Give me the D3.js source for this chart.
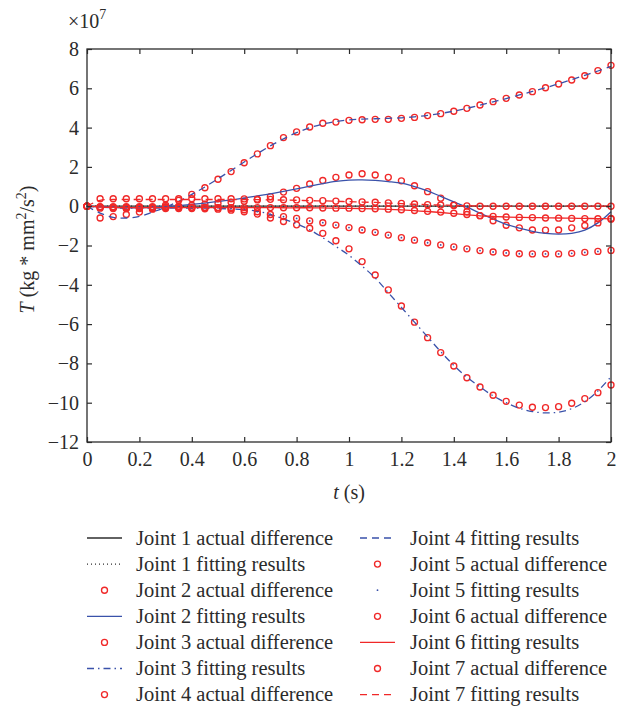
<!DOCTYPE html>
<html>
<head>
<meta charset="utf-8">
<script src="https://cdn.jsdelivr.net/npm/d3@7"></script>
<style>
  body { margin: 0; background: #fff; }
  svg text { font-family: "Liberation Serif", "Times New Roman", serif; fill: #2b2b2b; }
</style>
</head>
<body>
<svg id="chart" width="632" height="710"></svg>
<script>
// Sample times (s)
const time = [0, 0.05, 0.1, 0.15, 0.2, 0.25, 0.3, 0.35, 0.4, 0.45, 0.5, 0.55, 0.6, 0.65, 0.7, 0.75, 0.8, 0.85, 0.9, 0.95,
  1.0, 1.05, 1.1, 1.15, 1.2, 1.25, 1.3, 1.35, 1.4, 1.45, 1.5, 1.55, 1.6, 1.65, 1.7, 1.75, 1.8, 1.85, 1.9, 1.95, 2.0];

const xTicks = [0, 0.2, 0.4, 0.6, 0.8, 1, 1.2, 1.4, 1.6, 1.8, 2];
const yTicks = [8, 6, 4, 2, 0, -2, -4, -6, -8, -10, -12];

// Torque differences, in units of 1e7 kg*mm^2/s^2
const joint1Actual = [0, 0, 0, 0, 0, 0, 0, 0, 0, 0, 0, 0, 0, 0, 0, 0, 0, 0, 0, 0,
  0, 0, 0, 0, 0, 0, 0, 0, 0, 0, 0, 0, 0, 0, 0, 0, 0, 0, 0, 0, 0];
const joint1Fit = [0, 0, 0, 0, 0, 0, 0, 0, 0, 0, 0, 0, 0, 0, 0, 0, 0, 0, 0, 0,
  0, 0, 0, 0, 0, 0, 0, 0, 0, 0, 0, 0, 0, 0, 0, 0, 0, 0, 0, 0, 0];

const joint2Actual = [0, -0.05, -0.08, -0.1, -0.1, -0.08, -0.05, 0, 0.05, 0.1, 0.15, 0.2, 0.25, 0.32, 0.49, 0.72, 0.91, 1.13, 1.31, 1.47,
  1.59, 1.65, 1.59, 1.47, 1.29, 1.04, 0.74, 0.41, 0.06, -0.28, -0.48, -0.74, -0.97, -1.1, -1.21, -1.22, -1.21, -1.1, -0.98, -0.85, -0.62];
const joint2Fit = [0, -0.03, -0.06, -0.08, -0.08, -0.06, -0.02, 0.03, 0.09, 0.16, 0.24, 0.32, 0.41, 0.52, 0.63, 0.75, 0.88, 1.02, 1.15, 1.26,
  1.33, 1.34, 1.31, 1.25, 1.17, 1.0, 0.78, 0.5, 0.22, -0.05, -0.35, -0.65, -0.92, -1.12, -1.28, -1.38, -1.42, -1.38, -1.22, -0.85, -0.28];

const joint3Actual = [0, -0.1, -0.12, -0.12, -0.12, -0.12, -0.12, -0.12, -0.12, -0.13, -0.15, -0.2, -0.28, -0.4, -0.6, -0.78, -0.95, -1.12, -1.38, -1.76,
  -2.17, -2.82, -3.5, -4.26, -5.08, -5.9, -6.69, -7.45, -8.13, -8.73, -9.2, -9.62, -9.93, -10.12, -10.23, -10.25, -10.2, -10.03, -9.79, -9.49, -9.1];
const joint3Fit = [0, -0.05, -0.08, -0.1, -0.1, -0.1, -0.1, -0.1, -0.1, -0.1, -0.12, -0.14, -0.18, -0.25, -0.42, -0.65, -0.9, -1.2, -1.6, -2.05,
  -2.5, -3.05, -3.65, -4.4, -5.15, -5.9, -6.65, -7.4, -8.1, -8.7, -9.2, -9.65, -10.0, -10.28, -10.45, -10.52, -10.48, -10.3, -9.95, -9.4, -8.68];

const joint4Actual = [0, -0.6, -0.53, -0.42, -0.3, -0.15, 0.05, 0.3, 0.6, 0.94, 1.37, 1.76, 2.21, 2.66, 3.08, 3.49, 3.78, 4.03, 4.22, 4.28,
  4.37, 4.4, 4.42, 4.42, 4.47, 4.52, 4.61, 4.71, 4.83, 4.98, 5.15, 5.32, 5.49, 5.66, 5.83, 6.03, 6.22, 6.42, 6.64, 6.9, 7.17];
const joint4Fit = [0, -0.35, -0.57, -0.6, -0.52, -0.3, -0.05, 0.25, 0.6, 0.98, 1.4, 1.82, 2.25, 2.67, 3.07, 3.43, 3.74, 3.99, 4.18, 4.31,
  4.39, 4.43, 4.45, 4.47, 4.5, 4.55, 4.62, 4.72, 4.84, 4.98, 5.14, 5.31, 5.48, 5.66, 5.84, 6.03, 6.23, 6.44, 6.66, 6.88, 7.12];

const joint5Actual = [0, -0.02, -0.03, -0.03, -0.03, -0.03, -0.03, -0.04, -0.05, -0.06, -0.08, -0.12, -0.18, -0.28, -0.42, -0.53, -0.62, -0.75, -0.84, -0.96,
  -1.09, -1.21, -1.33, -1.47, -1.6, -1.73, -1.86, -1.97, -2.07, -2.17, -2.26, -2.33, -2.38, -2.42, -2.43, -2.43, -2.43, -2.4, -2.35, -2.3, -2.25];
const joint5Fit = [0, -0.02, -0.03, -0.03, -0.03, -0.03, -0.03, -0.04, -0.05, -0.06, -0.08, -0.12, -0.18, -0.28, -0.42, -0.53, -0.62, -0.75, -0.84, -0.96,
  -1.09, -1.21, -1.33, -1.47, -1.6, -1.73, -1.86, -1.97, -2.07, -2.17, -2.26, -2.33, -2.38, -2.42, -2.43, -2.43, -2.43, -2.4, -2.35, -2.3, -2.25];

const joint6Actual = [0, -0.05, -0.06, -0.07, -0.07, -0.07, -0.07, -0.07, -0.07, -0.07, -0.07, -0.07, -0.07, -0.07, -0.07, -0.08, -0.08, -0.08, -0.09, -0.1,
  -0.1, -0.12, -0.13, -0.15, -0.18, -0.22, -0.26, -0.3, -0.36, -0.42, -0.48, -0.52, -0.55, -0.57, -0.58, -0.6, -0.61, -0.62, -0.63, -0.64, -0.66];
const joint6Fit = [0, -0.04, -0.06, -0.07, -0.07, -0.07, -0.07, -0.07, -0.07, -0.07, -0.07, -0.07, -0.07, -0.07, -0.07, -0.08, -0.08, -0.08, -0.09, -0.1,
  -0.11, -0.12, -0.14, -0.16, -0.19, -0.23, -0.27, -0.32, -0.38, -0.44, -0.49, -0.52, -0.55, -0.57, -0.58, -0.59, -0.6, -0.61, -0.62, -0.63, -0.64];

const joint7Actual = [0, 0.38, 0.38, 0.38, 0.38, 0.38, 0.38, 0.38, 0.38, 0.38, 0.38, 0.38, 0.37, 0.36, 0.35, 0.33, 0.32, 0.3, 0.28, 0.26,
  0.24, 0.22, 0.2, 0.17, 0.14, 0.11, 0.08, 0.06, 0.04, 0.02, 0, 0, 0, 0, 0, 0, 0, 0, 0, 0, 0];
const joint7Fit = [0, 0.3, 0.34, 0.34, 0.34, 0.34, 0.34, 0.34, 0.34, 0.34, 0.34, 0.34, 0.33, 0.33, 0.32, 0.31, 0.3, 0.28, 0.27, 0.25,
  0.23, 0.21, 0.19, 0.16, 0.13, 0.1, 0.08, 0.06, 0.04, 0.02, 0.01, 0, 0, 0, 0, 0, 0, 0, 0, 0, 0];

const legendLabels = [
  "Joint 1 actual difference", "Joint 1 fitting results",
  "Joint 2 actual difference", "Joint 2 fitting results",
  "Joint 3 actual difference", "Joint 3 fitting results",
  "Joint 4 actual difference", "Joint 4 fitting results",
  "Joint 5 actual difference", "Joint 5 fitting results",
  "Joint 6 actual difference", "Joint 6 fitting results",
  "Joint 7 actual difference", "Joint 7 fitting results"
];

// ---- drawing ----
const RED = "#f02828";
const BLUE = "#3a52aa";
const BLACK = "#2e2e2e";

const seriesList = [
  { values: joint1Actual, kind: "line", color: BLACK, dash: null },
  { values: joint1Fit, kind: "line", color: BLACK, dash: "1,3" },
  { values: joint2Actual, kind: "circle", color: RED },
  { values: joint2Fit, kind: "line", color: BLUE, dash: null },
  { values: joint3Actual, kind: "circle", color: RED },
  { values: joint3Fit, kind: "line", color: BLUE, dash: "7,4,1.5,4" },
  { values: joint4Actual, kind: "circle", color: RED },
  { values: joint4Fit, kind: "line", color: BLUE, dash: "7,5" },
  { values: joint5Actual, kind: "circle", color: RED },
  { values: joint5Fit, kind: "dot", color: BLUE },
  { values: joint6Actual, kind: "circle", color: RED },
  { values: joint6Fit, kind: "line", color: RED, dash: null },
  { values: joint7Actual, kind: "circle", color: RED },
  { values: joint7Fit, kind: "line", color: RED, dash: "7,5" }
];

const plot = { left: 87, right: 611, top: 49, bottom: 442 };
const svg = d3.select("#chart");
svg.append("rect").attr("width", 632).attr("height", 710).attr("fill", "#fff");

const x = d3.scaleLinear().domain([0, 2]).range([plot.left, plot.right]);
const y = d3.scaleLinear().domain([-12, 8]).range([plot.bottom, plot.top]);

const fmtY = d => d < 0 ? "\u2212" + Math.abs(d) : String(d);
const fmtX = d => String(d);

svg.append("defs").append("clipPath").attr("id", "plotClip")
  .append("rect").attr("x", plot.left - 4).attr("y", plot.top)
  .attr("width", plot.right - plot.left + 8).attr("height", plot.bottom - plot.top);

const marks = svg.append("g").attr("clip-path", "url(#plotClip)");
const lineGen = d3.line().x((d, i) => x(time[i])).y(d => y(d)).curve(d3.curveCatmullRom.alpha(0.5));

seriesList.forEach(s => {
  if (s.kind === "line") {
    marks.append("path").datum(s.values)
      .attr("d", lineGen).attr("fill", "none")
      .attr("stroke", s.color).attr("stroke-width", 1.3)
      .attr("stroke-dasharray", s.dash);
  } else if (s.kind === "circle") {
    marks.append("g").selectAll("circle").data(s.values).join("circle")
      .attr("cx", (d, i) => x(time[i])).attr("cy", d => y(d)).attr("r", 3)
      .attr("fill", "none").attr("stroke", s.color).attr("stroke-width", 1.35);
  } else if (s.kind === "dot") {
    marks.append("g").selectAll("circle").data(s.values).join("circle")
      .attr("cx", (d, i) => x(time[i])).attr("cy", d => y(d)).attr("r", 0.9)
      .attr("fill", s.color);
  }
});

// Axes: ticks point inward on all four sides
const axisColor = "#2b2b2b";
function styleAxis(g) {
  g.select(".domain").remove();
  g.selectAll(".tick line").attr("stroke", axisColor).attr("stroke-width", 1.2);
  g.selectAll(".tick text").attr("fill", "#2b2b2b").style("font-size", "20px")
    .style("font-family", '"Liberation Serif", "Times New Roman", serif');
}
svg.append("g").attr("transform", `translate(0,${plot.bottom})`)
  .call(d3.axisBottom(x).tickValues(xTicks).tickFormat(fmtX).tickSize(-5).tickPadding(10))
  .call(styleAxis);
svg.append("g").attr("transform", `translate(0,${plot.top})`)
  .call(d3.axisTop(x).tickValues(xTicks).tickFormat("").tickSize(-5))
  .call(styleAxis);
svg.append("g").attr("transform", `translate(${plot.left},0)`)
  .call(d3.axisLeft(y).tickValues(yTicks).tickFormat(fmtY).tickSize(-5).tickPadding(8))
  .call(styleAxis);
svg.append("g").attr("transform", `translate(${plot.right},0)`)
  .call(d3.axisRight(y).tickValues(yTicks).tickFormat("").tickSize(-5))
  .call(styleAxis);

svg.append("rect").attr("x", plot.left).attr("y", plot.top)
  .attr("width", plot.right - plot.left).attr("height", plot.bottom - plot.top)
  .attr("fill", "none").attr("stroke", axisColor).attr("stroke-width", 1.3);

// Exponent label
const expo = svg.append("text").attr("x", 68).attr("y", 28).style("font-size", "20px");
expo.append("tspan").text("\u00d710");
expo.append("tspan").attr("dy", -9).style("font-size", "14px").text("7");

// Axis titles
const xt = svg.append("text").attr("x", (plot.left + plot.right) / 2).attr("y", 499)
  .attr("text-anchor", "middle").style("font-size", "20px");
xt.append("tspan").style("font-style", "italic").text("t");
xt.append("tspan").text(" (s)");

const yt = svg.append("text").attr("transform", `translate(34,${(plot.top + plot.bottom) / 2 + 4}) rotate(-90)`)
  .attr("text-anchor", "middle").style("font-size", "20px");
yt.append("tspan").style("font-style", "italic").text("T");
yt.append("tspan").text(" (kg * mm");
yt.append("tspan").attr("dy", -8).style("font-size", "14px").text("2");
yt.append("tspan").attr("dy", 8).text("/s");
yt.append("tspan").attr("dy", -8).style("font-size", "14px").text("2");
yt.append("tspan").attr("dy", 8).text(")");

// Legend in two columns
const legend = svg.append("g");
const rowY = i => 538 + (i % 7) * 26.1;
const colSample = [87, 360];
const colText = [136, 410];
seriesList.forEach((s, i) => {
  const col = i < 7 ? 0 : 1;
  const cy = rowY(i);
  const x0 = colSample[col], x1 = x0 + 35;
  if (s.kind === "line") {
    legend.append("line").attr("x1", x0).attr("x2", x1).attr("y1", cy).attr("y2", cy)
      .attr("stroke", s.color).attr("stroke-width", 1.3).attr("stroke-dasharray", s.dash);
  } else if (s.kind === "circle") {
    legend.append("circle").attr("cx", (x0 + x1) / 2).attr("cy", cy).attr("r", 3)
      .attr("fill", "none").attr("stroke", s.color).attr("stroke-width", 1.35);
  } else {
    legend.append("circle").attr("cx", (x0 + x1) / 2).attr("cy", cy).attr("r", 0.9).attr("fill", s.color);
  }
  legend.append("text").attr("x", colText[col]).attr("y", cy + 6.5)
    .style("font-size", "20.5px").text(legendLabels[i]);
});
</script>
</body>
</html>
